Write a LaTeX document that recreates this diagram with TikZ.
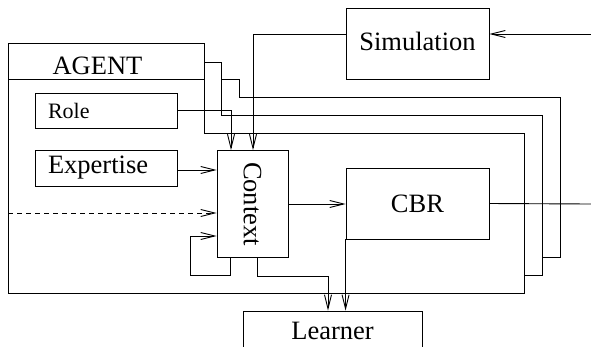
\documentclass[tikz,border=0pt]{standalone}
\usepackage{fontspec}
\usepackage{graphicx}
\setmainfont{Liberation Serif}
\usetikzlibrary{arrows.meta}

\tikzset{
  box/.style={draw, line width=0.9pt, inner sep=0pt},
  lbl/.style={font=\fontsize{26.5}{30}\selectfont},
  small/.style={font=\fontsize{22}{26}\selectfont},
  wire/.style={line width=0.9pt},
  flow/.style={wire, -{Straight Barb[length=14pt,width=7pt,line width=0.9pt]}},
}

\begin{document}
\begin{tikzpicture}[x=1pt, y=-1pt]
  \useasboundingbox (0,0) rectangle (591,346);
  \clip (0,0) rectangle (591,346);

  % stacked agent outlines (rear ones first)
  \draw[wire] (221,79) -- (239,79) -- (239,97) -- (560,97) -- (560,257) -- (542,257);
  \draw[wire] (204,62) -- (221,62) -- (221,115) -- (542,115) -- (542,275) -- (524,275);
  \draw[wire] (8,43) -- (204,43) -- (204,133) -- (524,133) -- (524,293) -- (8,293) -- cycle;
  \draw[wire] (8,79) -- (204,79);
  \node[lbl] (agent) at (97.5,66) {AGENT};

  % boxes
  \node[box, minimum width=143pt, minimum height=71pt] (sim) at (417.5,43.5)
    {\raisebox{5pt}{\fontsize{26.5}{30}\selectfont Simulation}};
  \node[box, minimum width=142pt, minimum height=35pt, text width=116pt,
        inner xsep=13pt, align=left] (role) at (106,110.5)
    {\raisebox{-2.5pt}{\fontsize{22}{26}\selectfont Role}};
  \node[box, lbl, minimum width=142pt, minimum height=36pt, text width=116pt,
        inner xsep=13pt, align=left] (exp) at (106,168) {Expertise};
  \node[box, minimum width=71pt, minimum height=107pt] (ctx) at (252.5,204)
    {\rotatebox{-90}{\fontsize{26.5}{30}\selectfont Context}};
  \node[box, lbl, minimum width=143pt, minimum height=71pt] (cbr) at (417.5,203.5) {CBR};
  \node[box, lbl, minimum width=179pt, minimum height=40pt] (learn) at (332.5,331) {Learner};

  % free ends
  \coordinate (simin) at (591,34);
  \coordinate (cbrout) at (591,204);
  \coordinate (dashin) at (8,213);
  \coordinate (loopc) at (190,275);

  % connectors
  \draw[flow] (simin) -- (simin -| sim.east);
  \draw[flow] ([yshift=9.5pt]sim.west) -| ([xshift=0.5pt]ctx.north);
  \draw[flow] (role.east) -| ([xshift=-21.5pt]ctx.north);
  \draw[flow] ([yshift=-2pt]exp.east) -- ([yshift=-2pt]exp.east -| ctx.west);
  \draw[flow, dash pattern=on 5pt off 4pt] (dashin) -- (dashin -| ctx.west);
  \draw[flow] ([xshift=-22.5pt]ctx.south) |- (loopc) |- ([yshift=-32pt]ctx.west);
  \draw[flow] ([xshift=4.5pt]ctx.south) -- ++(0,18) -| ([xshift=-4.5pt]learn.north);
  \draw[flow] (ctx.east) -- (ctx.east -| cbr.west);
  \draw[wire] (cbr.east) -- (cbrout);
  \draw[flow] (cbr.south west) -- (cbr.south west |- learn.north);
\end{tikzpicture}
\end{document}
